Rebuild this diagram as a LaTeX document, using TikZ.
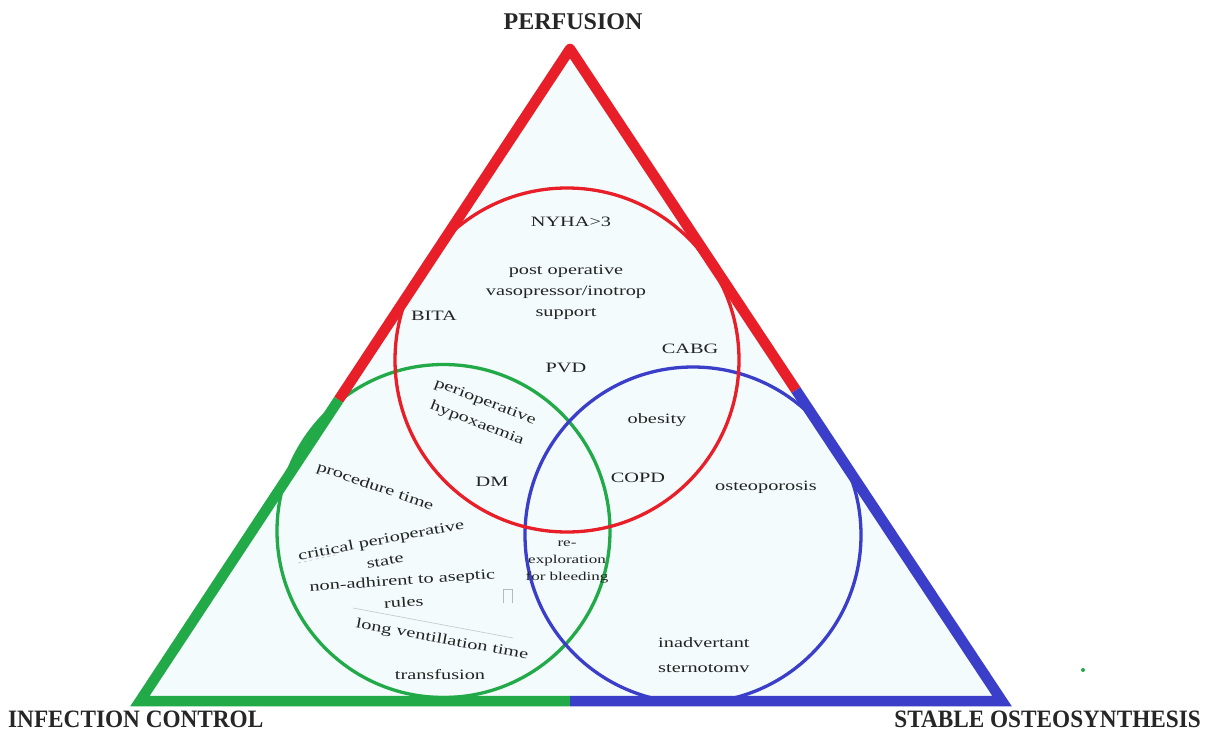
\documentclass[tikz,border=0pt]{standalone}
\usepackage{fontspec}
\setmainfont{Liberation Serif}
\newfontfamily\widefont[FakeStretch=1.42]{Liberation Serif}
\newfontfamily\narrowfont[FakeStretch=0.93]{Liberation Serif}
\usetikzlibrary{calc}
\definecolor{tred}{RGB}{232,30,40}
\definecolor{tgreen}{RGB}{34,170,72}
\definecolor{tblue}{RGB}{58,62,200}
\definecolor{txt}{RGB}{35,35,35}
\definecolor{tint}{RGB}{243,251,252}
\begin{document}
\begin{tikzpicture}[x=1pt,y=-1pt,
  side/.style={line width=10.5pt},
  ring/.style={line width=3.3pt},
  lbl/.style={font={\widefont\fontsize{14.3}{21}\selectfont}, text=txt, inner sep=0pt, align=center},
  small/.style={font={\widefont\fontsize{12}{17}\selectfont}, text=txt, inner sep=0pt, align=center},
  head/.style={font={\bfseries\fontsize{24}{28}\selectfont}, text=black!85, inner sep=0pt},
  foot/.style={font={\narrowfont\bfseries\fontsize{25}{29}\selectfont}, text=black!85, inner sep=0pt},
  faint/.style={gray!45, line width=0.6pt}]
\useasboundingbox (0,0) rectangle (1210,733);
\fill[white] (0,0) rectangle (1210,733);
\coordinate (A) at (570,49);
\coordinate (L) at (140,701);
\coordinate (R) at (1002,701);
\coordinate (ML) at ($(A)!0.538!(L)$);
\coordinate (MR) at ($(A)!0.523!(R)$);
\coordinate (MB) at (570,701);
\fill[tint] (A)--(L)--(R)--cycle;
% circles
\draw[tgreen, ring] (443.5,531) circle[radius=166.5pt];
\draw[tblue, ring] (693,535) circle[radius=168pt];
\draw[tred, ring] (567,360) circle[radius=172pt];
% triangle sides
\draw[tred, side, line join=round] (ML)--(A)--(MR);
\draw[tgreen, side, line join=miter] (ML)--(L)--(MB);
\draw[tblue, side, line join=miter] (MB)--(R)--(MR);
% faint artefacts
\draw[faint, dashed] (298,563)--(335,555);
\draw[faint] (353,608)--(513,638);
\draw[gray!55, line width=0.8pt] (503,603)--(503,589)--(512,589)--(512,603);
\fill[tgreen] (1083,670) circle[radius=2pt];
% headers
\node[head] (perf) at (573,22) {PERFUSION};
\node[foot, anchor=west] (inf) at (8,719) {INFECTION CONTROL};
\node[foot, anchor=east] (sos) at (1201,719) {STABLE OSTEOSYNTHESIS};
% labels
\node[lbl] (nyha) at (571,222) {NYHA>3};
\node[lbl] (post) at (566,292) {post operative\\vasopressor/inotrop\\support};
\node[lbl] (bita) at (434,316) {BITA};
\node[lbl] (cabg) at (690,349) {CABG};
\node[lbl] (pvd) at (566,368) {PVD};
\node[lbl, font={\widefont\fontsize{14.3}{23}\selectfont}, rotate=-21] (peri) at (481,413) {perioperative\\hypoxaemia};
\node[lbl] (dm) at (492,482) {DM};
\node[lbl] (obes) at (657,420) {obesity};
\node[lbl] (copd) at (638,478) {COPD};
\node[lbl] (osteo) at (766,487) {osteoporosis};
\node[small] (reex) at (567,562) {re-\\exploration\\for bleeding};
\node[lbl, rotate=-19] (proc) at (375,487) {procedure time};
\node[lbl, rotate=11, font={\widefont\fontsize{14.3}{21}\selectfont}] (crit) at (383,550) {critical perioperative\\state};
\node[lbl, rotate=4, font={\widefont\fontsize{14.3}{22}\selectfont}] (nonad) at (403,591) {non-adhirent to aseptic\\rules};
\node[lbl, rotate=-10.5] (longv) at (442,640) {long ventillation time};
\node[lbl] (trans) at (440,675) {transfusion};
\node[lbl, font={\widefont\fontsize{14.3}{25}\selectfont}, align=left, anchor=west] (inad) at (658,655) {inadvertant\\sternotomv};
\end{tikzpicture}
\end{document}
